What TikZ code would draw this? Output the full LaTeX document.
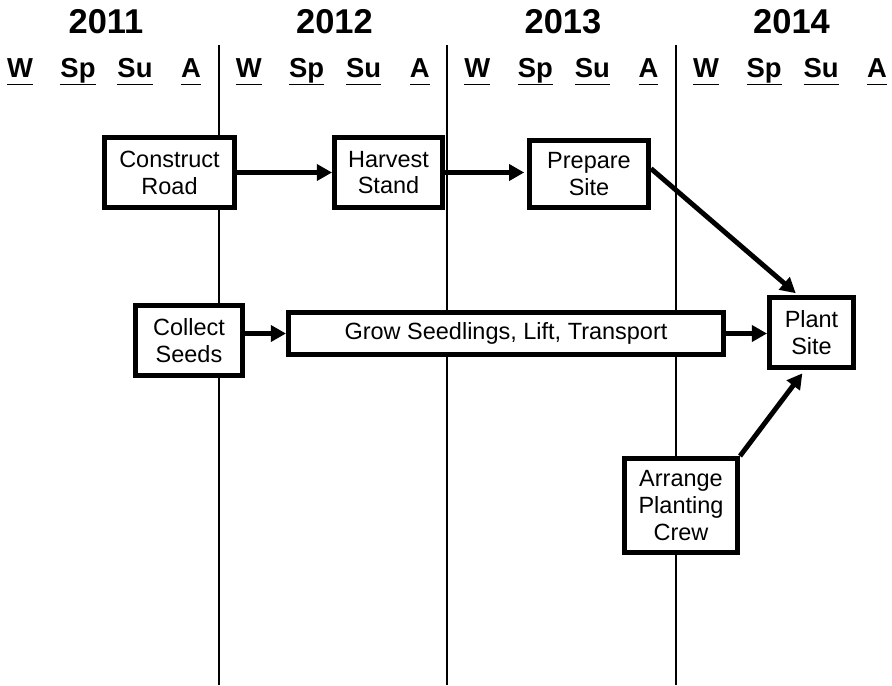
\documentclass[tikz,border=0pt]{standalone}
\usepackage{fontspec}
\setmainfont{Liberation Sans}
\usetikzlibrary{arrows.meta}

\begin{document}
\begin{tikzpicture}[x=0.025cm, y=-0.025cm,
    task/.style={draw=black, line width=3.5pt, fill=white, inner sep=0pt,
      align=center, font=\fontsize{16.7}{19.1}\selectfont},
    flow/.style={draw=black, line width=3.5pt, -{Triangle[length=0.38cm, width=0.4cm]}},
    season/.style={anchor=base, font=\fontsize{19.5}{22}\selectfont\bfseries},
    yearlabel/.style={anchor=base, font=\fontsize{24.5}{28}\selectfont\bfseries}]
  \useasboundingbox (0,0) rectangle (892,685);
  % year dividers
  \foreach \x in {219,447,676}
    \draw[draw=black, line width=0.9pt] (\x,45) -- (\x,685);
  % years and seasons
  \foreach \yr [count=\i from 0] in {2011,2012,2013,2014} {
    \node[yearlabel] (y\yr) at (106+228.5*\i,33) {\yr};
    \node[season] (w\yr) at (20+228.7*\i,77) {\underline{W\vphantom{p}}};
    \node[season] (sp\yr) at (78+228.7*\i,77) {\underline{Sp}};
    \node[season] (su\yr) at (135+228.7*\i,77) {\underline{Su\vphantom{p}}};
    \node[season] (a\yr) at (191+228.7*\i,77) {\underline{A\vphantom{p}}};
  }
  % tasks
  \node[task, minimum width=3.25cm, minimum height=1.75cm] (road) at (169.5,172.5) {Construct\\Road};
  \node[task, minimum width=2.7cm, minimum height=1.75cm] (harvest) at (388.5,172.5) {Harvest\\Stand};
  \node[task, minimum width=2.975cm, minimum height=1.675cm] (prepare) at (589,174) {Prepare\\Site};
  \node[task, minimum width=2.675cm, minimum height=1.75cm] (seeds) at (189,340.5) {Collect\\Seeds};
  \node[task, minimum width=10.875cm, minimum height=1.05cm] (grow) at (506,333.5) {Grow Seedlings, Lift, Transport};
  \node[task, minimum width=2.1cm, minimum height=1.75cm] (plant) at (811.5,332.5) {Plant\\Site};
  \node[task, minimum width=2.825cm, minimum height=2.35cm] (crew) at (681,505.5) {Arrange\\Planting\\Crew};
  % links
  \draw[flow] (road.east) -- (harvest.west);
  \draw[flow, shorten >=2pt] (harvest.east) -- (prepare.west |- harvest.east);
  \draw[flow, shorten >=2pt] (prepare.5) -- (plant.110);
  \draw[flow] (seeds.east |- grow.west) -- (grow.west);
  \draw[flow] (grow.east) -- (plant.west |- grow.east);
  \draw[flow, shorten >=3pt] (crew.north east) -- (plant.-100);
\end{tikzpicture}
\end{document}
